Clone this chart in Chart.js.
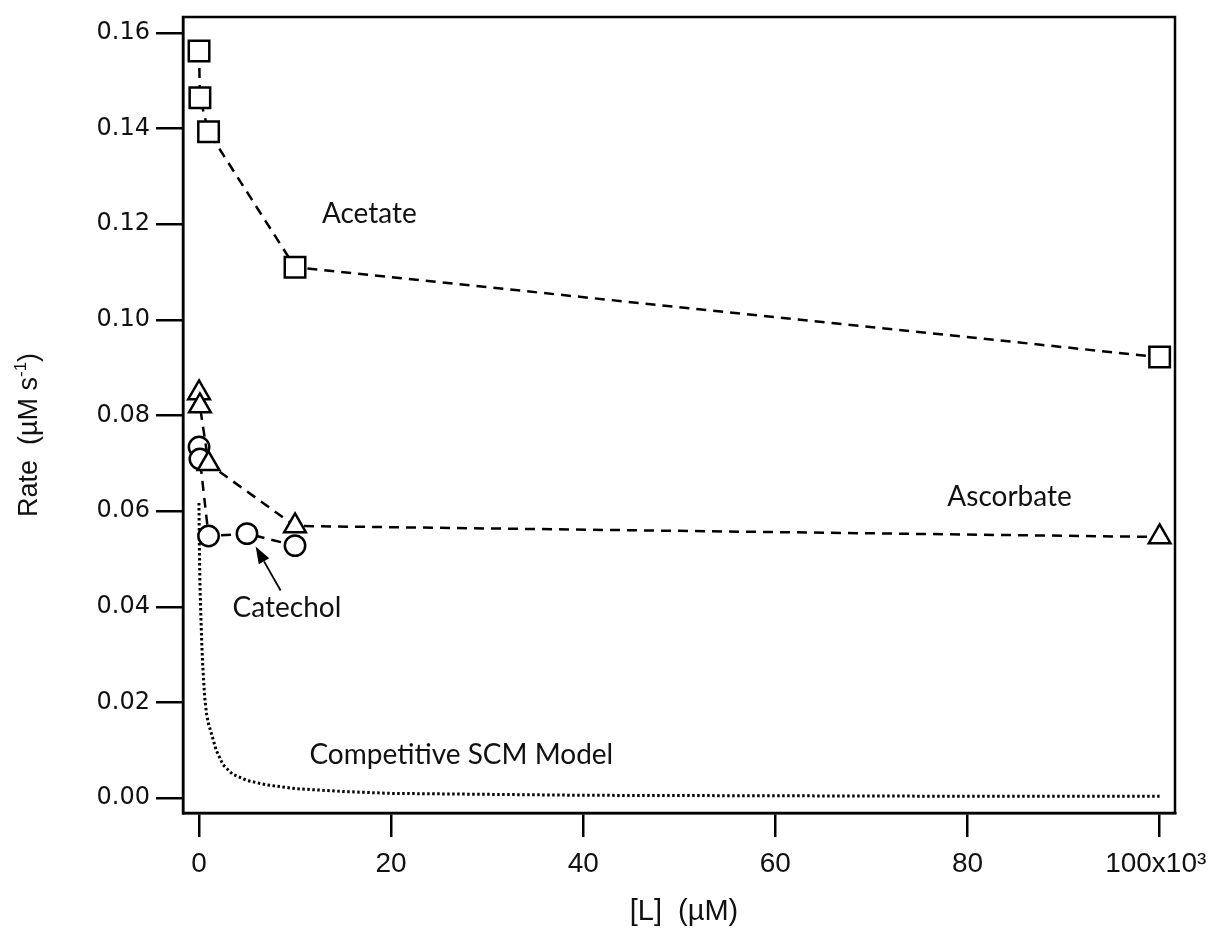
<!DOCTYPE html>
<html>
<head>
<meta charset="utf-8">
<script src="https://cdn.jsdelivr.net/npm/chart.js@4.4.1/dist/chart.umd.min.js"></script>
<style>
  html, body { margin: 0; padding: 0; background: #fff; }
</style>
</head>
<body>
<canvas id="rate-chart" width="1215" height="928"></canvas>
<script>
// --- data (x in 10^3 uM) ---
const acetateX   = [0.01, 0.1, 1, 10, 100];
const acetateY   = [0.1562, 0.1464, 0.1393, 0.1110, 0.0922];
const ascorbateX = [0.01, 0.1, 1, 10, 100];
const ascorbateY = [0.0847, 0.0820, 0.0699, 0.0569, 0.0546];
const catecholX  = [0.01, 0.1, 1, 5, 10];
const catecholY  = [0.0734, 0.0709, 0.0548, 0.0553, 0.0528];

// dotted model curve, traced point by point
const modelX = [0, 0.05, 0.1, 0.2, 0.3, 0.4, 0.6, 0.8, 1.0, 1.3, 1.8, 2.5, 3.5, 5, 7, 10, 15, 20, 30, 40, 60, 80, 100];
const modelY = [0.0617, 0.0520, 0.0450, 0.0380, 0.0320, 0.0275, 0.0210, 0.0175, 0.0155, 0.0135, 0.0100, 0.0070, 0.0050, 0.0037, 0.0028, 0.0020, 0.0014, 0.0010, 0.0008, 0.0006, 0.0005, 0.0004, 0.0004];

const xTicks = [0, 20, 40, 60, 80, 100];
const xTickLabels = ['0', '20', '40', '60', '80', '100x10\u00B3 '];
const yTicks = [0, 0.02, 0.04, 0.06, 0.08, 0.10, 0.12, 0.14, 0.16];

// annotation text, placed in data units
const notes = [
    { text: 'Acetate', x: 12.8, y: 0.1222 },
    { text: 'Ascorbate', x: 77.9, y: 0.0630 },
    { text: 'Catechol', x: 3.5, y: 0.0398 },
    { text: 'Competitive SCM Model', x: 11.5, y: 0.0090 }
];
const arrowTail = { x: 8.5, y: 0.0434 };
const arrowTip  = { x: 5.9, y: 0.0526 };

const pts = (xs, ys) => xs.map((x, i) => ({ x: x, y: ys[i] }));

const dashed = [10, 7];
const markerBase = {
    showLine: true,
    borderColor: '#000',
    borderWidth: 2.5,
    borderDash: dashed,
    pointBackgroundColor: '#fff',
    pointBorderColor: '#000',
    pointBorderWidth: 2.5,
    clip: false
};

const notesPlugin = {
    id: 'notes',
    afterDatasetsDraw(chart) {
        const { ctx, chartArea, scales } = chart;
        const xs = scales.x, ys = scales.y;
        ctx.save();

        // frame round the plot
        ctx.strokeStyle = '#000';
        ctx.lineWidth = 2.5;
        ctx.setLineDash([]);
        ctx.strokeRect(chartArea.left, chartArea.top, chartArea.right - chartArea.left, chartArea.bottom - chartArea.top);

        // labels inside the plot
        ctx.fillStyle = '#111';
        ctx.font = '28px Lato';
        ctx.textAlign = 'left';
        ctx.textBaseline = 'middle';
        notes.forEach(n => ctx.fillText(n.text, xs.getPixelForValue(n.x), ys.getPixelForValue(n.y)));

        // arrow to the catechol point
        const x1 = xs.getPixelForValue(arrowTail.x), y1 = ys.getPixelForValue(arrowTail.y);
        const x2 = xs.getPixelForValue(arrowTip.x),  y2 = ys.getPixelForValue(arrowTip.y);
        const ang = Math.atan2(y2 - y1, x2 - x1);
        const headLen = 17, headW = 6;
        ctx.strokeStyle = '#000';
        ctx.lineWidth = 1.8;
        ctx.beginPath();
        ctx.moveTo(x1, y1);
        ctx.lineTo(x2 - Math.cos(ang) * headLen, y2 - Math.sin(ang) * headLen);
        ctx.stroke();
        ctx.beginPath();
        ctx.moveTo(x2, y2);
        ctx.lineTo(x2 - Math.cos(ang) * headLen - Math.sin(ang) * headW, y2 - Math.sin(ang) * headLen + Math.cos(ang) * headW);
        ctx.lineTo(x2 - Math.cos(ang) * headLen + Math.sin(ang) * headW, y2 - Math.sin(ang) * headLen - Math.cos(ang) * headW);
        ctx.closePath();
        ctx.fillStyle = '#000';
        ctx.fill();

        // x axis title
        ctx.fillStyle = '#111';
        ctx.font = '29px "Liberation Sans"';
        ctx.textAlign = 'center';
        ctx.textBaseline = 'middle';
        ctx.fillText('[L]  (\u00B5M)', (chartArea.left + chartArea.right) / 2 + 5, 912);

        // y axis title, rotated, with superscript -1
        ctx.translate(30, (chartArea.top + chartArea.bottom) / 2 + 20);
        ctx.rotate(-Math.PI / 2);
        const main = 'Rate  (\u00B5M s', sup = '-1', tail = ')';
        const bigF = '27px "Liberation Sans"', smallF = '17px "Liberation Sans"';
        ctx.font = bigF;
        const wMain = ctx.measureText(main).width, wTail = ctx.measureText(tail).width;
        ctx.font = smallF;
        const wSup = ctx.measureText(sup).width;
        let cx = -(wMain + wSup + wTail) / 2;
        ctx.textAlign = 'left';
        ctx.textBaseline = 'middle';
        ctx.font = bigF;
        ctx.fillText(main, cx, 0);
        cx += wMain;
        ctx.font = smallF;
        ctx.fillText(sup, cx, -9);
        cx += wSup;
        ctx.font = bigF;
        ctx.fillText(tail, cx, 0);

        ctx.restore();
    }
};

const ctxRate = document.getElementById('rate-chart').getContext('2d');
const rateChart = new Chart(ctxRate, {
    type: 'scatter',
    data: {
        datasets: [
            Object.assign({}, markerBase, { label: 'Acetate', data: pts(acetateX, acetateY), pointStyle: 'rect', pointRadius: 14.5 }),
            Object.assign({}, markerBase, { label: 'Ascorbate', data: pts(ascorbateX, ascorbateY), pointStyle: 'triangle', pointRadius: 12.5 }),
            Object.assign({}, markerBase, { label: 'Catechol', data: pts(catecholX, catecholY), pointStyle: 'circle', pointRadius: 10.2 }),
            {
                label: 'Competitive SCM Model',
                data: pts(modelX, modelY),
                showLine: true,
                borderColor: '#000',
                borderWidth: 3,
                borderDash: [2.5, 2.5],
                pointRadius: 0,
                tension: 0,
                clip: false
            }
        ]
    },
    options: {
        responsive: false,
        animation: false,
        devicePixelRatio: 1,
        layout: { padding: { left: 0, top: 15, right: 40, bottom: 0 } },
        plugins: { legend: { display: false }, tooltip: { enabled: false } },
        scales: {
            x: {
                type: 'linear',
                min: -1.66, max: 101.6,
                border: { display: true, color: '#000', width: 2.5 },
                grid: { drawOnChartArea: false, drawTicks: true, tickLength: 24, color: '#000', lineWidth: 2.5 },
                ticks: {
                    color: '#111',
                    padding: 10,
                    font: { family: '"Liberation Sans"', size: 28 },
                    callback: (v) => xTickLabels[xTicks.indexOf(v)]
                },
                afterBuildTicks: (s) => { s.ticks = xTicks.map(v => ({ value: v })); },
                afterFit: (s) => { s.height = 115; s.paddingLeft = 0; s.paddingRight = 0; }
            },
            y: {
                type: 'linear',
                min: -0.0031, max: 0.1633,
                border: { display: true, color: '#000', width: 2.5 },
                grid: { drawOnChartArea: false, drawTicks: true, tickLength: 27, color: '#000', lineWidth: 2.5 },
                ticks: {
                    color: '#111',
                    padding: 6,
                    font: { family: '"DejaVu Sans"', size: 24 },
                    callback: (v) => v.toFixed(2)
                },
                afterBuildTicks: (s) => { s.ticks = yTicks.map(v => ({ value: v })); },
                afterFit: (s) => { s.width = 183; s.paddingTop = 0; s.paddingBottom = 0; }
            }
        }
    },
    plugins: [notesPlugin]
});
</script>
</body>
</html>
